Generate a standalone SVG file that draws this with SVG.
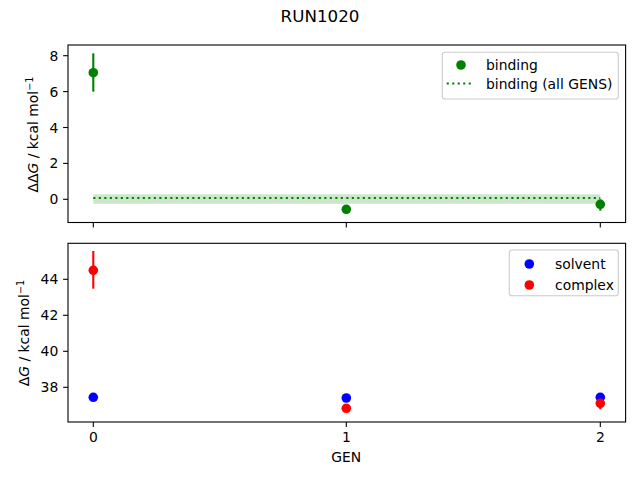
<svg xmlns="http://www.w3.org/2000/svg" width="640" height="480" viewBox="0 0 640 480">
<style>
text{font-family:"DejaVu Sans","Liberation Sans",sans-serif;font-size:13.9px;fill:#000}
.tl{text-anchor:end}
.tc{text-anchor:middle}
.ax{fill:none;stroke:#000;stroke-width:1.1}
.tk{stroke:#000;stroke-width:1.1}
.leg{fill:#fff;fill-opacity:0.8;stroke:#cccccc;stroke-width:1.1}
.eg{stroke:#008000;stroke-width:2.1}
.er{stroke:#ff0000;stroke-width:2.1}
</style>
<rect width="640" height="480" fill="#fff"/>
<text x="320" y="22" class="tc" style="font-size:16.7px">RUN1020</text>

<g id="top-axes">
<rect x="68" y="45" width="557.6" height="177.5" fill="#fff"/>
<rect x="93.3" y="194.3" width="507" height="9.5" fill="#008000" fill-opacity="0.2"/>
<line x1="93.3" y1="198" x2="600.3" y2="198" stroke="#008000" stroke-width="2.1" stroke-dasharray="2.1 3.4"/>
<g id="binding-points">
<line class="eg" x1="93.3" y1="53.3" x2="93.3" y2="91.7"/>
<circle cx="93.3" cy="72.7" r="4.8" fill="#008000"/>
<line class="eg" x1="346.3" y1="206" x2="346.3" y2="212.5"/>
<circle cx="346.3" cy="209.3" r="4.8" fill="#008000"/>
<line class="eg" x1="600.3" y1="199.3" x2="600.3" y2="210.7"/>
<circle cx="600.3" cy="204.3" r="4.8" fill="#008000"/>
</g>
<rect class="ax" x="68" y="45" width="557.6" height="177.5"/>
<g class="tk">
<line x1="68" y1="55.7" x2="63.1" y2="55.7"/>
<line x1="68" y1="91.6" x2="63.1" y2="91.6"/>
<line x1="68" y1="127.5" x2="63.1" y2="127.5"/>
<line x1="68" y1="163.4" x2="63.1" y2="163.4"/>
<line x1="68" y1="199.3" x2="63.1" y2="199.3"/>
<line x1="93.3" y1="222.5" x2="93.3" y2="227.4"/>
<line x1="346.3" y1="222.5" x2="346.3" y2="227.4"/>
<line x1="600.3" y1="222.5" x2="600.3" y2="227.4"/>
</g>
<text class="tl" x="58.3" y="60.7">8</text>
<text class="tl" x="58.3" y="96.6">6</text>
<text class="tl" x="58.3" y="132.5">4</text>
<text class="tl" x="58.3" y="168.4">2</text>
<text class="tl" x="58.3" y="204.3">0</text>
<text class="tc" transform="translate(37.7,134.5) rotate(-90)">ΔΔ<tspan font-style="italic">G</tspan> / kcal mol<tspan dy="-5" style="font-size:9.7px">−1</tspan></text>
<g id="legend-top">
<rect class="leg" x="442.3" y="52.3" width="176" height="46.7" rx="2.8"/>
<circle cx="461" cy="65" r="4.8" fill="#008000"/>
<text x="486" y="69.8">binding</text>
<line x1="446.7" y1="83.5" x2="472" y2="83.5" stroke="#008000" stroke-width="2.1" stroke-dasharray="2.1 3.4"/>
<text x="486" y="88.5">binding (all GENS)</text>
</g>
</g>

<g id="bottom-axes">
<rect x="68" y="243.3" width="557.6" height="178.7" fill="#fff"/>
<g id="solvent-points" fill="#0000ff">
<circle cx="93.3" cy="397.3" r="4.8"/>
<circle cx="346.3" cy="398" r="4.8"/>
<circle cx="600.3" cy="397.3" r="4.8"/>
</g>
<g id="complex-points" fill="#ff0000">
<line class="er" x1="93.3" y1="251" x2="93.3" y2="288.7"/>
<circle cx="93.3" cy="270.3" r="4.8"/>
<line class="er" x1="346.3" y1="404.5" x2="346.3" y2="412"/>
<circle cx="346.3" cy="408.3" r="4.8"/>
<line class="er" x1="600.3" y1="399.3" x2="600.3" y2="409.3"/>
<circle cx="600.3" cy="403.3" r="4.8"/>
</g>
<rect class="ax" x="68" y="243.3" width="557.6" height="178.7"/>
<g class="tk">
<line x1="68" y1="279.3" x2="63.1" y2="279.3"/>
<line x1="68" y1="315.3" x2="63.1" y2="315.3"/>
<line x1="68" y1="351.3" x2="63.1" y2="351.3"/>
<line x1="68" y1="387.3" x2="63.1" y2="387.3"/>
<line x1="93.3" y1="422" x2="93.3" y2="426.9"/>
<line x1="346.3" y1="422" x2="346.3" y2="426.9"/>
<line x1="600.3" y1="422" x2="600.3" y2="426.9"/>
</g>
<text class="tl" x="58.3" y="284.3">44</text>
<text class="tl" x="58.3" y="320.3">42</text>
<text class="tl" x="58.3" y="356.3">40</text>
<text class="tl" x="58.3" y="392.3">38</text>
<text class="tc" x="93.3" y="441.5">0</text>
<text class="tc" x="346.3" y="441.5">1</text>
<text class="tc" x="600.3" y="441.5">2</text>
<text class="tc" x="346.3" y="461.5">GEN</text>
<text class="tc" transform="translate(29.3,333) rotate(-90)">Δ<tspan font-style="italic">G</tspan> / kcal mol<tspan dy="-5" style="font-size:9.7px">−1</tspan></text>
<g id="legend-bottom">
<rect class="leg" x="509.3" y="250" width="109" height="45.7" rx="2.8"/>
<circle cx="529.3" cy="264" r="4.8" fill="#0000ff"/>
<text x="555" y="268.8">solvent</text>
<circle cx="529.3" cy="285" r="4.8" fill="#ff0000"/>
<text x="555" y="289.8">complex</text>
</g>
</g>
</svg>
